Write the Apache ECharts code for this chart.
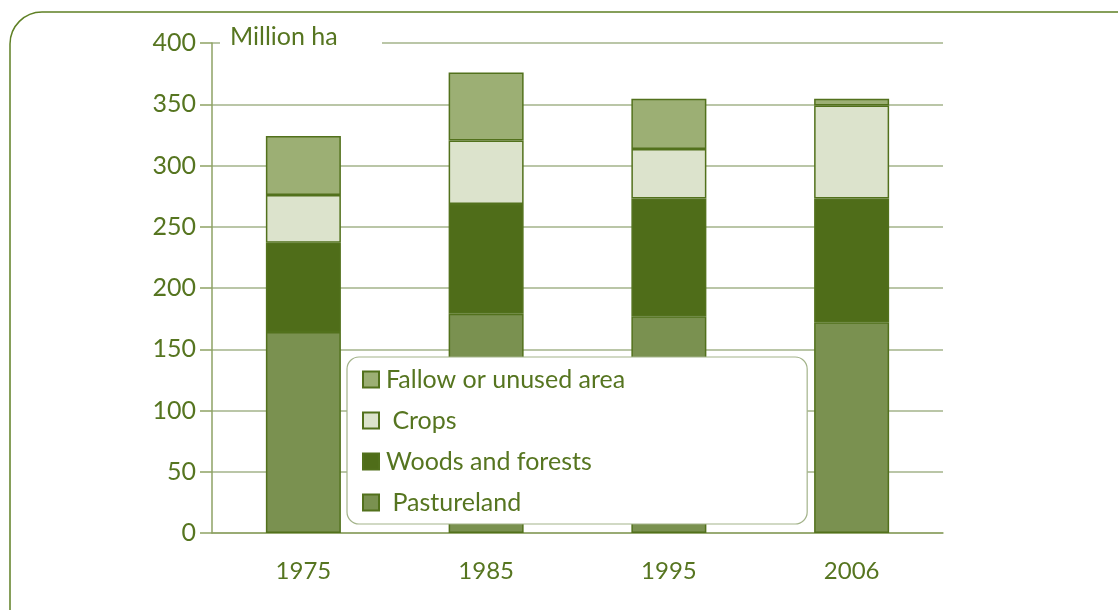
<!DOCTYPE html>
<html>
<head>
<meta charset="utf-8">
<script src="https://cdn.jsdelivr.net/npm/echarts@6/dist/echarts.min.js"></script>
<style>
  html, body { margin: 0; padding: 0; background: #fff; }
  #chart { width: 1118px; height: 610px; }
</style>
</head>
<body>
<div id="chart"></div>
<script>
const years = ['1975', '1985', '1995', '2006']
// stacked from bottom up
const pastureland = [164, 179, 177, 172]
const woods = [73, 89.5, 96, 101]
const crops = [39, 52, 40.5, 76]
const fallow = [48, 55.5, 41, 5.5]

const textColor = '#567520'
const edge = '#52711c'
const font = 'Lato'

const chart = echarts.init(document.getElementById('chart'))

function bar(name, data, color) {
  return {
    name: name,
    type: 'bar',
    stack: 'area',
    barWidth: 75,
    data: data,
    itemStyle: { color: color, borderColor: edge, borderWidth: 1.5 },
    animation: false
  }
}

chart.setOption({
  animation: false,
  grid: { left: 212, right: 175, top: 43, bottom: 77 },
  legend: {
    orient: 'vertical',
    left: 347,
    top: 357,
    icon: 'rect',
    data: ['Fallow or unused area', 'Crops', 'Woods and forests', 'Pastureland'],
    formatter: function (n) {
      return (n === 'Crops' || n === 'Pastureland') ? ' ' + n : n
    },
    backgroundColor: '#fff',
    borderColor: '#a3b38a',
    borderWidth: 1.2,
    borderRadius: 12,
    padding: [10, 182, 9, 15],
    itemWidth: 16,
    itemHeight: 16,
    itemGap: 16,
    textStyle: { color: textColor, fontSize: 25, fontFamily: font, padding: [0, 0, 0, 2] }
  },
  xAxis: {
    type: 'category',
    data: years,
    axisLine: { lineStyle: { color: '#8ea264', width: 1.5 } },
    axisTick: { length: 12, lineStyle: { color: '#8ea264', width: 1.5 } },
    axisLabel: { color: textColor, fontSize: 24, fontFamily: font, margin: 26 }
  },
  yAxis: {
    type: 'value',
    min: 0,
    max: 400,
    interval: 50,
    axisLine: { show: true, lineStyle: { color: '#8ea264', width: 1.5 } },
    axisTick: { show: true, length: 12, lineStyle: { color: '#8ea264', width: 1.5 } },
    axisLabel: { color: textColor, fontSize: 25, fontFamily: font, margin: 16 },
    splitLine: { lineStyle: { color: '#a3b38a', width: 1.5 } }
  },
  graphic: [
    {
      type: 'rect',
      z: 100,
      shape: { x: 10, y: 12, width: 1140, height: 640, r: 32 },
      style: { fill: 'none', stroke: '#5f8025', lineWidth: 1.5 },
      silent: true
    },
    {
      type: 'rect',
      z: 100,
      shape: { x: 220, y: 32, width: 162, height: 20 },
      style: { fill: '#fff' },
      silent: true
    },
    {
      type: 'text',
      z: 101,
      left: 230,
      top: 24,
      style: { text: 'Million ha', fill: textColor, fontSize: 25, fontFamily: font }
    }
  ],
  series: [
    bar('Pastureland', pastureland, '#7a9150'),
    bar('Woods and forests', woods, '#4f6d19'),
    bar('Crops', crops, '#dce3cc'),
    bar('Fallow or unused area', fallow, '#9caf74')
  ]
})
</script>
</body>
</html>
